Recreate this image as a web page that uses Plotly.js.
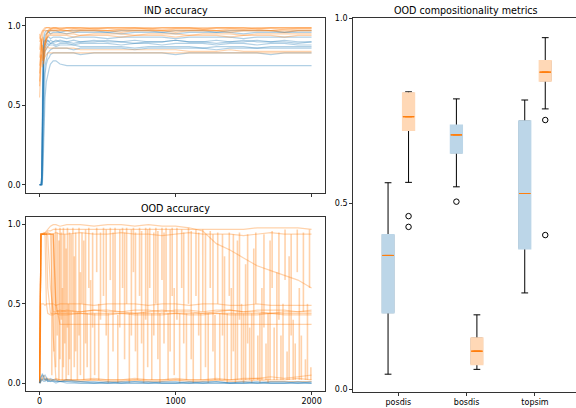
<!DOCTYPE html>
<html><head><meta charset="utf-8">
<script src="https://cdn.plot.ly/plotly-3.0.1.min.js"></script>
<style>html,body{margin:0;padding:0;background:#fff;}#chart{width:576px;height:408px;}</style>
</head><body><div id="chart"></div>
<script>
// ---------- IND accuracy (top-left) ----------
const S_IND = [0,5,10,15,20,25,30,40,50,60,70,80,100,120,150,200,250,300,400,500,600,700,800,900,1000,1100,1200,1300,1400,1500,1600,1700,1800,1900,2000];
const IND_BLUE = [
 [0,0,0,0.05,0.4,0.8,0.93,0.96,0.97,0.97,0.96,0.97,0.97,0.97,0.96,0.97,0.97,0.97, 0.97,0.96,0.97,0.97,0.97,0.96,0.97,0.97,0.97,0.96,0.97,0.97,0.97,0.97,0.96,0.97,0.97],
 [0,0,0,0.02,0.3,0.7,0.9,0.94,0.95,0.96,0.96,0.95,0.96,0.96,0.96,0.95,0.96,0.96, 0.96,0.96,0.95,0.96,0.96,0.96,0.95,0.96,0.96,0.96,0.96,0.95,0.96,0.96,0.96,0.96,0.96],
 [0,0,0,0,0.2,0.6,0.85,0.9,0.92,0.93,0.93,0.92,0.93,0.93,0.93,0.92,0.93,0.93, 0.93,0.92,0.93,0.93,0.93,0.93,0.92,0.93,0.93,0.93,0.93,0.92,0.93,0.93,0.93,0.93,0.93],
 [0,0,0,0.03,0.35,0.75,0.86,0.88,0.9,0.91,0.9,0.89,0.9,0.91,0.9,0.9,0.89,0.9, 0.91,0.9,0.9,0.89,0.9,0.9,0.91,0.9,0.9,0.89,0.9,0.9,0.91,0.9,0.9,0.89,0.9],
 [0,0,0,0,0.25,0.65,0.82,0.86,0.88,0.89,0.88,0.89,0.89,0.88,0.89,0.89,0.88,0.89, 0.89,0.89,0.88,0.89,0.89,0.88,0.89,0.89,0.89,0.88,0.89,0.89,0.88,0.89,0.89,0.88,0.88],
 [0,0,0,0,0.1,0.5,0.75,0.84,0.86,0.87,0.88,0.88,0.88,0.87,0.88,0.88,0.88,0.87, 0.87,0.87,0.87,0.86,0.87,0.87,0.87,0.87,0.86,0.87,0.87,0.87,0.86,0.87,0.87,0.87,0.87],
 [0,0,0,0,0.05,0.3,0.6,0.75,0.8,0.83,0.84,0.85,0.86,0.86,0.86,0.86,0.85,0.86, 0.86,0.86,0.86,0.85,0.86,0.86,0.86,0.86,0.86,0.85,0.86,0.86,0.86,0.86,0.86,0.86,0.86],
 [0,0,0,0,0.02,0.2,0.5,0.7,0.76,0.79,0.8,0.82,0.83,0.83,0.83,0.83,0.83,0.82, 0.83,0.83,0.83,0.83,0.83,0.83,0.82,0.83,0.83,0.83,0.83,0.83,0.83,0.82,0.83,0.83,0.83],
 [0,0,0,0,0,0.1,0.3,0.55,0.65,0.7,0.73,0.76,0.78,0.78,0.76,0.75,0.75,0.75, 0.75,0.75,0.75,0.75,0.75,0.75,0.75,0.75,0.75,0.75,0.75,0.75,0.75,0.75,0.75,0.75,0.75],
 [0,0,0,0.05,0.5,0.85,0.9,0.91,0.9,0.91,0.9,0.91,0.9,0.9,0.91,0.9,0.91,0.9, 0.9,0.91,0.9,0.91,0.9,0.9,0.91,0.9,0.9,0.91,0.9,0.91,0.9,0.9,0.91,0.9,0.9]
];
const IND_ORANGE = [
 [0.92,0.94,0.95,0.96,0.97,0.98,0.98,0.99,0.99,0.99,0.99,0.99,0.99,0.99,0.99,0.99,0.99,0.99, 0.99,0.99,0.99,0.99,0.99,0.99,0.99,0.99,0.99,0.99,0.99,0.99,0.99,0.99,0.99,0.99,0.99],
 [0.8,0.85,0.88,0.9,0.93,0.95,0.97,0.98,0.99,0.99,0.99,0.98,0.99,0.99,0.98,0.99,0.99,0.99, 0.98,0.99,0.99,0.99,0.98,0.99,0.99,0.99,0.98,0.99,0.99,0.99,0.98,0.99,0.99,0.99,0.99],
 [0.55,0.7,0.8,0.85,0.88,0.85,0.8,0.9,0.95,0.97,0.98,0.98,0.985,0.985,0.98,0.985,0.985,0.98, 0.985,0.985,0.98,0.985,0.985,0.98,0.985,0.985,0.98,0.985,0.985,0.98,0.985,0.985,0.98,0.985,0.985],
 [0.7,0.8,0.9,0.92,0.88,0.8,0.76,0.85,0.92,0.96,0.97,0.98,0.98,0.98,0.98,0.97,0.98,0.98, 0.98,0.97,0.98,0.98,0.98,0.97,0.98,0.98,0.98,0.97,0.98,0.98,0.98,0.97,0.98,0.98,0.98],
 [0.95,0.93,0.9,0.85,0.8,0.78,0.82,0.9,0.95,0.96,0.97,0.97,0.97,0.97,0.97,0.97,0.96,0.97, 0.97,0.97,0.96,0.97,0.97,0.97,0.96,0.97,0.97,0.97,0.96,0.97,0.97,0.97,0.96,0.97,0.97],
 [0.62,0.75,0.85,0.9,0.92,0.93,0.9,0.88,0.92,0.94,0.95,0.95,0.95,0.95,0.95,0.95,0.95,0.94, 0.95,0.95,0.95,0.94,0.95,0.95,0.95,0.94,0.95,0.95,0.95,0.94,0.95,0.95,0.95,0.95,0.95],
 [0.85,0.9,0.92,0.88,0.85,0.82,0.86,0.9,0.92,0.93,0.94,0.94,0.94,0.94,0.94,0.94,0.93,0.94, 0.94,0.94,0.93,0.94,0.94,0.94,0.93,0.94,0.94,0.94,0.93,0.94,0.94,0.94,0.93,0.94,0.94],
 [0.75,0.8,0.82,0.78,0.74,0.76,0.8,0.84,0.86,0.87,0.86,0.86,0.86,0.86,0.86,0.86,0.86,0.85, 0.85,0.85,0.85,0.85,0.85,0.85,0.85,0.84,0.84,0.84,0.85,0.84,0.84,0.84,0.84,0.84,0.84],
 [0.65,0.75,0.8,0.82,0.8,0.78,0.79,0.81,0.82,0.83,0.83,0.83,0.83,0.83,0.83,0.83,0.83,0.83, 0.83,0.83,0.83,0.83,0.83,0.83,0.83,0.83,0.83,0.83,0.83,0.83,0.83,0.83,0.83,0.83,0.83],
 [0.9,0.92,0.94,0.95,0.96,0.97,0.97,0.97,0.97,0.97,0.97,0.97,0.97,0.97,0.97,0.97,0.97,0.97, 0.97,0.97,0.97,0.97,0.97,0.97,0.97,0.97,0.97,0.97,0.97,0.97,0.97,0.97,0.97,0.97,0.97]
];

// ---------- OOD accuracy (bottom-left) ----------
const S_OOD = [0,5,10,20,30,40,50,60,80,100,120,150,200,300,400,500,600,700,800,900,1000,1100,1200,1300,1400,1500,1600,1700,1800,1900,2000];
const OOD_ORANGE = [
 [0,0.9,0.94,0.94,0.95,0.94,0.94,0.95,0.94,0.94,0.95,0.94,0.94, 0.95,0.94,0.94,0.95,0.94,0.94,0.93,0.94,0.95,0.94,0.94,0.94,0.93,0.94,0.95,0.94,0.94,0.94],
 [0,0.92,0.94,0.94,0.94,0.94,0.94,0.93,0.6,0.45,0.45,0.46,0.45, 0.45,0.46,0.45,0.45,0.44,0.45,0.46,0.45,0.45,0.44,0.45,0.46,0.45,0.45,0.44,0.45,0.45,0.45],
 [0,0.9,0.94,0.94,0.94,0.93,0.5,0.44,0.43,0.43,0.44,0.43,0.43, 0.44,0.43,0.43,0.44,0.43,0.43,0.43,0.44,0.43,0.43,0.44,0.43,0.43,0.43,0.44,0.43,0.43,0.43],
 [0,0.48,0.5,0.5,0.5,0.49,0.5,0.5,0.5,0.5,0.49,0.5,0.5, 0.5,0.49,0.5,0.5,0.5,0.49,0.5,0.5,0.49,0.5,0.5,0.49,0.49,0.5,0.49,0.49,0.49,0.49],
 [0,0.93,0.94,0.94,0.94,0.94,0.94,0.94,0.94,0.3,0.02,0.01,0.02, 0.01,0.02,0.01,0.01,0.02,0.01,0.01,0.02,0.01,0.01,0.02,0.01,0.01,0.02,0.01,0.01,0.01,0.01],
 [0,0.9,0.94,0.94,0.94,0.94,0.94,0.94,0.94,0.94,0.5,0.37,0.37, 0.37,0.37,0.37,0.37,0.37,0.37,0.37,0.37,0.37,0.37,0.37,0.37,0.37,0.37,0.37,0.37,0.37,0.37],
 [0,0.9,0.94,0.94,0.94,0.94,0.94,0.94,0.94,0.94,0.46,0.45,0.46, 0.45,0.46,0.46,0.45,0.46,0.46,0.45,0.46,0.46,0.45,0.46,0.46,0.45,0.46,0.46,0.46,0.45,0.46],
 [0,0.01,0.02,0.03,0.02,0.02,0.03,0.02,0.02,0.02,0.03,0.02,0.02, 0.02,0.03,0.02,0.02,0.03,0.02,0.02,0.03,0.02,0.02,0.03,0.02,0.02,0.03,0.02,0.02,0.03,0.02],
 [0,0.9,0.93,0.94,0.94,0.95,0.96,0.97,0.99,1.0,1.0,0.99,1.0, 1.0,0.99,1.0,1.0,0.99,1.0,0.99,0.99,0.98,0.96,0.88,0.84,0.79,0.74,0.71,0.68,0.65,0.6],
 [0,0.9,0.94,0.94,0.94,0.95,0.95,0.96,0.96,0.97,0.97,0.97,0.97, 0.97,0.97,0.97,0.97,0.97,0.97,0.97,0.97,0.97,0.97,0.97,0.97,0.97,0.98,0.98,0.98,0.98,0.97],
 [0,0.01,0.02,0.03,0.05,0.03,0.02,0.03,0.02,0.02,0.02,0.02,0.02, 0.02,0.02,0.02,0.02,0.02,0.02,0.02,0.02,0.02,0.02,0.02,0.02,0.03,0.03,0.04,0.03,0.04,0.05],
 [0,0.9,0.94,0.94,0.94,0.94,0.94,0.6,0.44,0.44,0.44,0.44,0.44, 0.44,0.44,0.44,0.44,0.44,0.44,0.44,0.44,0.44,0.44,0.44,0.44,0.44,0.44,0.44,0.44,0.44,0.44]
];
const OOD_BLUE = [
 [0,0.02,0.04,0.05,0.03,0.02,0.03,0.02,0.01,0.02,0.01,0.01,0.02, 0.01,0.01,0,0.01,0.01,0,0.01,0.01,0,0.01,0.01,0,0.01,0,0.01,0.01,0,0.01],
 [0,0.01,0.03,0.06,0.04,0.05,0.03,0.02,0.03,0.02,0.02,0.01,0.01, 0.01,0,0.01,0,0.01,0.01,0,0,0.01,0,0.01,0,0,0.01,0,0,0.01,0],
 [0,0,0.01,0.02,0.03,0.02,0.02,0.01,0.02,0.01,0.01,0.01,0.01, 0,0,0,0,0,0,0,0,0,0,0,0,0,0,0,0,0,0],
 [0,0.01,0.02,0.02,0.01,0.01,0.02,0.01,0.01,0.01,0,0.01,0, 0,0,0,0,0,0,0,0,0,0,0,0,0,0,0,0,0,0]
];
// sudden drops / jumps of the unstable orange runs (step, lowest value, highest value)
const SPIKE_STEP = [90,105,118,130,142,150,160,168,175,185,195,205,212,220,232,245,255,265,278,290,300,312,325,338,350,362,375,390,405,420,435,448,
 470,490,505,520,540,555,575,590,610,625,640,660,675,690,705,720,735,750,765,780,795,810,825,840,855,870,885,900,915,930,945,960,975,990,
 1010,1030,1045,1060,1080,1095,1115,1130,1150,1170,1185,1200,1220,1240,1255,1275,1290,
 1310,1325,1345,1360,1380,1395,1410,1425,1440,1455,1470,1485,1500,1515,1530,1545,1560,1575,1590,1605,1620,1635,1650,1665,1680,1695,1710,1725,1745,1760,1775,1790,1805,1820,1835,1850,1865,1880,1895,1910,1925,1940,1955,1970,1985,1995];
const SPIKE_LO = [0.05,0.2,0.1,0.3,0.02,0.15,0.4,0.02,0.1,0.25,0.02,0.35,0.05,0.15,0.02,0.45,0.1,0.2,0.02,0.3,0.05,0.5,0.02,0.25,0.1,0.6,0.02,0.35,0.05,0.7,0.02,0.4,
 0.55,0.3,0.0,0.65,0.2,0.45,0.0,0.35,0.6,0.15,0.5,0.0,0.3,0.7,0.2,0.02,0.55,0.25,0.0,0.4,0.1,0.6,0.02,0.3,0.5,0.15,0.0,0.65,0.25,0.45,0.02,0.2,0.55,0.05,
 0.4,0.0,0.6,0.25,0.02,0.5,0.15,0.0,0.55,0.3,0.02,0.45,0.1,0.0,0.6,0.2,0.02,
 0.5,0.02,0.3,0.02,0.0,0.55,0.02,0.2,0.0,0.02,0.4,0.02,0.0,0.02,0.25,0.02,0.0,0.02,0.5,0.02,0.0,0.02,0.35,0.02,0.0,0.02,0.6,0.02,0.02,0.4,0.02,0.02,0.65,0.02,0.02,0.3,0.02,0.02,0.7,0.02,0.02,0.45,0.02,0.02,0.6,0.02];
const SPIKE_HI = [0.94,0.94,0.98,0.95,0.9,0.98,0.95,0.6,0.98,0.94,0.85,0.98,0.5,0.95,0.94,0.98,0.8,0.95,0.45,0.98,0.7,0.95,0.9,0.97,0.44,0.98,0.65,0.95,0.44,0.98,0.5,0.95,
 0.98,0.97,0.44,0.98,0.95,0.98,0.43,0.97,0.98,0.95,0.98,0.44,0.97,0.98,0.95,0.44,0.98,0.96,0.45,0.98,0.97,0.98,0.44,0.95,0.98,0.96,0.44,0.98,0.95,0.98,0.44,0.97,0.98,0.6,
 0.98,0.44,0.97,0.95,0.44,0.98,0.96,0.44,0.97,0.95,0.44,0.97,0.94,0.44,0.96,0.94,0.43,
 0.95,0.44,0.94,0.8,0.44,0.95,0.6,0.94,0.44,0.9,0.95,0.5,0.44,0.75,0.94,0.35,0.44,0.85,0.95,0.3,0.44,0.6,0.94,0.25,0.44,0.9,0.96,0.35,0.7,0.95,0.3,0.5,0.97,0.2,0.8,0.94,0.4,0.25,0.97,0.6,0.3,0.95,0.15,0.5,0.97,0.1];

// ---------- OOD compositionality metrics (right) ----------
const METRICS = ['posdis','bosdis','topsim'];
const BLUE_Q1  = [0.206, 0.637, 0.379];
const BLUE_MED = [0.360, 0.685, 0.527];
const BLUE_Q3  = [0.415, 0.710, 0.722];
const BLUE_LO  = [0.040, 0.545, 0.259];
const BLUE_HI  = [0.556, 0.782, 0.779];
const BLUE_OUT_METRIC = ['bosdis'];
const BLUE_OUT_VAL = [0.505];
const ORANGE_Q1  = [0.698, 0.067, 0.831];
const ORANGE_MED = [0.734, 0.102, 0.854];
const ORANGE_Q3  = [0.797, 0.137, 0.884];
const ORANGE_LO  = [0.557, 0.053, 0.755];
const ORANGE_HI  = [0.801, 0.200, 0.947];
const ORANGE_OUT_METRIC = ['posdis','posdis','topsim','topsim'];
const ORANGE_OUT_VAL = [0.466, 0.437, 0.725, 0.415];

// ---------- drawing ----------
const C0 = 'rgba(31,119,180,0.35)', C1 = 'rgba(255,127,14,0.35)';
const FONT = 'DejaVu Sans';
function lineTrace(x, y, color, xa, ya, w) {
  return {type:'scatter', mode:'lines', x:x, y:y, xaxis:xa, yaxis:ya,
          line:{color:color, width:w || 1.2}, hoverinfo:'skip', showlegend:false};
}
const traces = [];
IND_BLUE.forEach(v => traces.push(lineTrace(S_IND, v, C0, 'x', 'y')));
IND_ORANGE.forEach(v => traces.push(lineTrace(S_IND, v, C1, 'x', 'y')));
SPIKE_STEP.forEach((s, i) => traces.push(lineTrace([s, s], [SPIKE_LO[i], SPIKE_HI[i]], C1, 'x2', 'y2', 1.6)));
OOD_ORANGE.forEach(v => traces.push(lineTrace(S_OOD, v, C1, 'x2', 'y2')));
OOD_BLUE.forEach(v => traces.push(lineTrace(S_OOD, v, C0, 'x2', 'y2')));

const catPos = {posdis:1, bosdis:2, topsim:3};
const OFF = 0.15, BW = 0.165;
const xb = METRICS.map(m => catPos[m] - OFF);
const xo = METRICS.map(m => catPos[m] + OFF);
function box(x, q1, med, q3, lo, hi, lc, fill, lw) {
  return {type:'box', x:x, q1:q1, median:med, q3:q3, lowerfence:lo, upperfence:hi,
          xaxis:'x3', yaxis:'y3', width:BW, whiskerwidth:0.6, boxpoints:false,
          line:{color:lc, width:lw}, fillcolor:fill, hoverinfo:'skip', showlegend:false};
}
const FB = '#bcd6e8', FO = '#ffd8b6';
traces.push(box(xb, BLUE_Q1, BLUE_MED, BLUE_Q3, BLUE_LO, BLUE_HI, '#000', 'rgba(0,0,0,0)', 1));
traces.push(box(xo, ORANGE_Q1, ORANGE_MED, ORANGE_Q3, ORANGE_LO, ORANGE_HI, '#000', 'rgba(0,0,0,0)', 1));
traces.push(box(xb, BLUE_Q1, BLUE_MED, BLUE_Q3, BLUE_Q1, BLUE_Q3, FB, FB, 2));
traces.push(box(xo, ORANGE_Q1, ORANGE_MED, ORANGE_Q3, ORANGE_Q1, ORANGE_Q3, FO, FO, 2));
traces.push(box(xb, BLUE_MED, BLUE_MED, BLUE_MED, BLUE_MED, BLUE_MED, '#ff7f0e', 'rgba(0,0,0,0)', 1));
traces.push(box(xo, ORANGE_MED, ORANGE_MED, ORANGE_MED, ORANGE_MED, ORANGE_MED, '#ff7f0e', 'rgba(0,0,0,0)', 1));
traces.push({type:'scatter', mode:'markers', xaxis:'x3', yaxis:'y3',
  x: BLUE_OUT_METRIC.map(m => catPos[m] - OFF).concat(ORANGE_OUT_METRIC.map(m => catPos[m] + OFF)),
  y: BLUE_OUT_VAL.concat(ORANGE_OUT_VAL),
  marker:{symbol:'circle-open', size:5.5, color:'#000', line:{width:1, color:'#000'}},
  hoverinfo:'skip', showlegend:false});

const W = 576, H = 408;
const common = {showline:true, linecolor:'#000', linewidth:0.8, ticks:'outside', ticklen:3,
  tickwidth:0.8, tickcolor:'#000', showgrid:false, zeroline:false, fixedrange:true,
  tickfont:{family:FONT, size:8, color:'#000'}};
const yTicks = {tickmode:'array', tickvals:[0,0.5,1], ticktext:['0.0','0.5','1.0']};
const leftX = [26/W, 325/W];
const layout = {
  width:W, height:H, autosize:false, margin:{l:0,r:0,t:0,b:0},
  paper_bgcolor:'#fff', plot_bgcolor:'#fff', boxmode:'overlay', showlegend:false,
  font:{family:FONT, size:8, color:'#000'},
  xaxis: Object.assign({}, common, {domain:leftX, range:[-99.95,2098.9], mirror:true, anchor:'y',
         tickmode:'array', tickvals:[0,1000,2000], showticklabels:false}),
  yaxis: Object.assign({}, common, yTicks, {domain:[1-192.7/H, 1-18/H], range:[-0.05,1.05], mirror:true, anchor:'x'}),
  xaxis2: Object.assign({}, common, {domain:leftX, range:[-99.95,2098.9], mirror:true, anchor:'y2',
         tickmode:'array', tickvals:[0,1000,2000], ticktext:['0','1000','2000']}),
  yaxis2: Object.assign({}, common, yTicks, {domain:[1-391/H, 1-216.7/H], range:[-0.05,1.05], mirror:true, anchor:'x2'}),
  xaxis3: Object.assign({}, common, {domain:[353/W, 1], range:[0.337,3.6], mirror:true, anchor:'y3',
         tickmode:'array', tickvals:[1,2,3], ticktext:METRICS}),
  yaxis3: Object.assign({}, common, yTicks, {domain:[1-392/H, 1-18/H], range:[-0.008,1.0], mirror:false, anchor:'x3'}),
  annotations:[
    {text:'IND accuracy', xref:'paper', yref:'paper', x:175.5/W, y:1-10.5/H, xanchor:'center', yanchor:'middle', showarrow:false, font:{family:FONT, size:9.6, color:'#000'}},
    {text:'OOD accuracy', xref:'paper', yref:'paper', x:175.5/W, y:1-209/H, xanchor:'center', yanchor:'middle', showarrow:false, font:{family:FONT, size:9.6, color:'#000'}},
    {text:'OOD compositionality metrics', xref:'paper', yref:'paper', x:466.3/W, y:1-10.5/H, xanchor:'center', yanchor:'middle', showarrow:false, font:{family:FONT, size:9.6, color:'#000'}}
  ]
};
Plotly.newPlot('chart', traces, layout, {displayModeBar:false, staticPlot:true});
</script></body></html>
